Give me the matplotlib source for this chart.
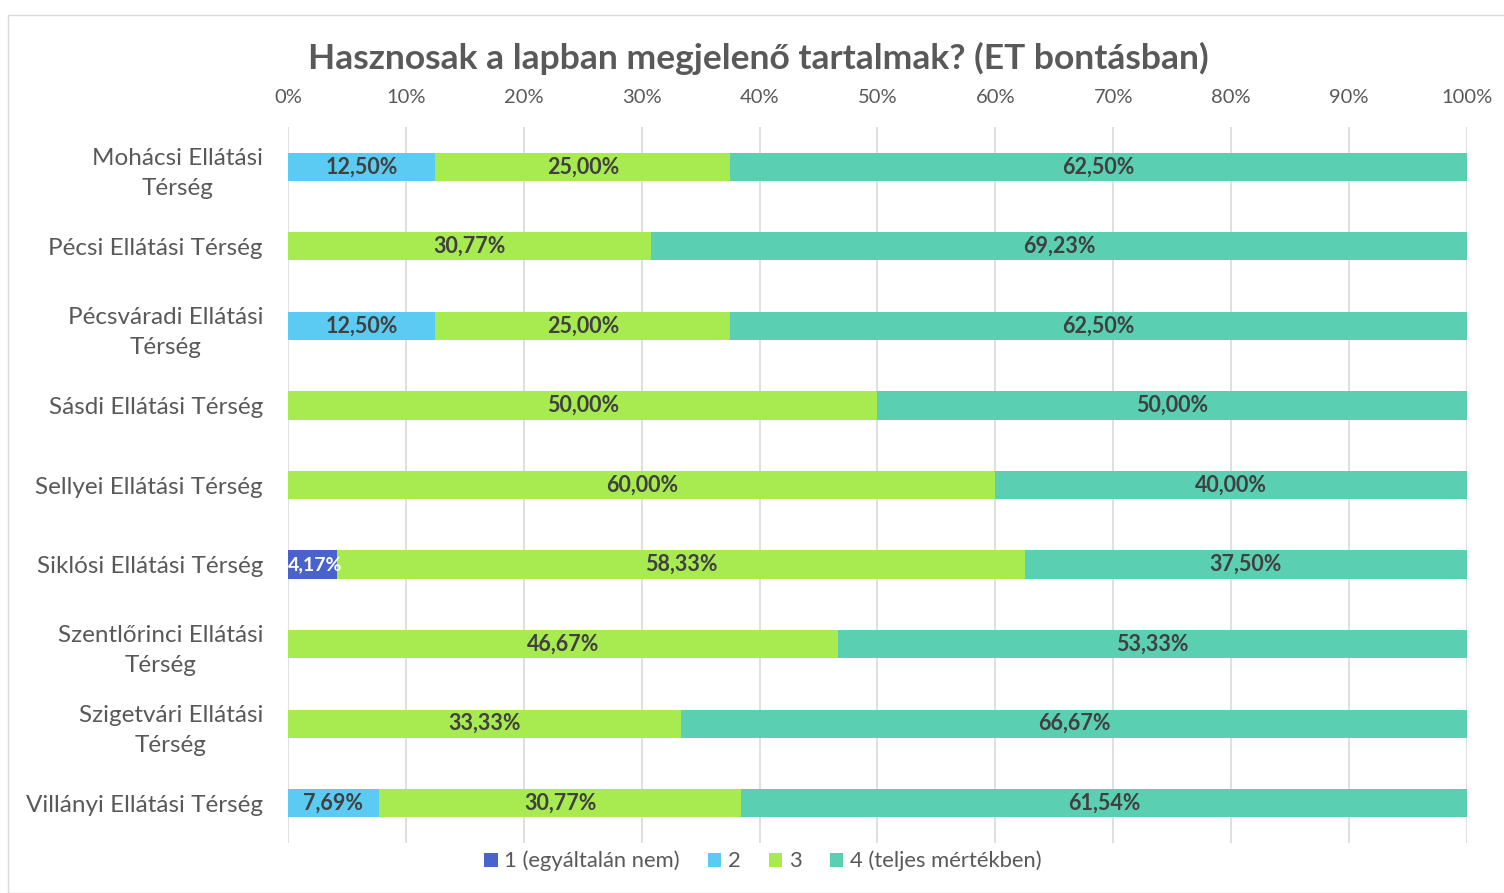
import matplotlib.pyplot as plt
from matplotlib.patches import Rectangle
import numpy as np

plt.rcParams['font.family'] = ['Lato', 'DejaVu Sans']

regions = ['Mohácsi Ellátási\nTérség', 'Pécsi Ellátási Térség', 'Pécsváradi Ellátási\nTérség',
           'Sásdi Ellátási Térség', 'Sellyei Ellátási Térség', 'Siklósi Ellátási Térség',
           'Szentlőrinci Ellátási\nTérség', 'Szigetvári Ellátási\nTérség', 'Villányi Ellátási Térség']
s1 = [0, 0, 0, 0, 0, 4.17, 0, 0, 0]
s2 = [12.50, 0, 12.50, 0, 0, 0, 0, 0, 7.69]
s3 = [25.00, 30.77, 25.00, 50.00, 60.00, 58.33, 46.67, 33.33, 30.77]
s4 = [62.50, 69.23, 62.50, 50.00, 40.00, 37.50, 53.33, 66.67, 61.54]
names = ['1 (egyáltalán nem)', '2', '3', '4 (teljes mértékben)']
colors = ['#4A62CB', '#5BCBF3', '#A8EB50', '#5BCFB1']
label_colors = ['white', '#404040', '#404040', '#404040']

fig = plt.figure(figsize=(15.04, 8.93), dpi=100)
fig.patches.append(Rectangle((8 / 1504, 0), 1.0, 1 - 15 / 893, transform=fig.transFigure,
                             fill=False, edgecolor='#D9D9D9', linewidth=1))
ax = fig.add_axes([288 / 1504, 1 - 843 / 893, 1179 / 1504, (843 - 127) / 893])

y = np.arange(len(regions))
left = np.zeros(len(regions))
for vals, name, col, lc in zip([s1, s2, s3, s4], names, colors, label_colors):
    vals = np.array(vals)
    ax.barh(y, vals, left=left, height=0.355, color=col, label=name, zorder=3)
    for yi, v, l in zip(y, vals, left):
        if v > 0:
            fs = 15.5 if v > 6 else 14
            ax.text(max(l + v / 2, 2.3), yi, f'{v:.2f}%'.replace('.', ','), ha='center', va='center',
                    fontsize=fs, fontweight='bold', color=lc, zorder=4)
    left += vals

ax.set_xlim(0, 100)
ax.set_ylim(8.5, -0.5)
ax.set_xticks(np.arange(0, 101, 10))
ax.set_xticklabels([f'{t}%' for t in range(0, 101, 10)])
ax.xaxis.tick_top()
ax.tick_params(axis='x', length=0, labelsize=14.5, labelcolor='#595959', pad=15)
ax.set_yticks(y)
ax.set_yticklabels(regions, multialignment='center', linespacing=1.55)
ax.tick_params(axis='y', length=0, labelsize=17.5, labelcolor='#595959', pad=18)
ax.grid(axis='x', color='#D9D9D9', linewidth=1.2, zorder=0)
for s in ax.spines.values():
    s.set_visible(False)

fig.text(758 / 1504, 1 - 58 / 893, 'Hasznosak a lapban megjelenő tartalmak? (ET bontásban)',
         ha='center', va='center', fontsize=25.5, fontweight='bold', color='#595959')
fig.legend(loc='center', bbox_to_anchor=(763 / 1504, 1 - 861 / 893), ncol=4, frameon=False,
           fontsize=15.8, labelcolor='#595959', handlelength=0.6, handleheight=0.6,
           handletextpad=0.3, columnspacing=1.3)

fig.savefig('out.png', dpi=100)
